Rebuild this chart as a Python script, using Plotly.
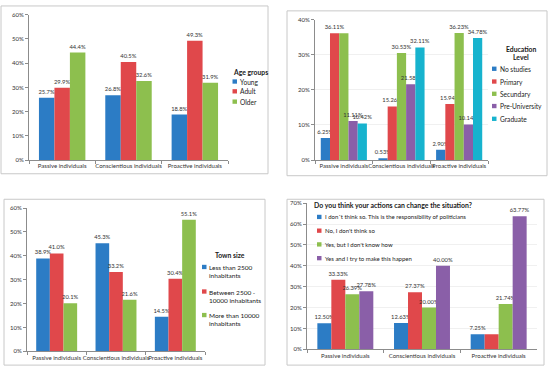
import plotly.graph_objects as go

categories = ["Passive individuals", "Conscientious individuals", "Proactive individuals"]

# Panel 1: Age groups
age_names = ["Young", "Adult", "Older"]
age_young = [25.7, 26.8, 18.8]
age_adult = [29.9, 40.5, 49.3]
age_older = [44.4, 32.6, 31.9]

# Panel 2: Education level
edu_names = ["No studies", "Primary", "Secundary", "Pre-University", "Graduate"]
edu_none = [6.25, 0.53, 2.90]
edu_primary = [36.11, 15.26, 15.94]
edu_secundary = [36.11, 30.53, 36.23]
edu_preuni = [11.11, 21.58, 10.14]
edu_graduate = [10.42, 32.11, 34.78]

# Panel 3: Town size
town_names = ["Less than 2500<br>inhabitants", "Between 2500 -<br>10000 inhabitants",
              "More than 10000<br>inhabitants"]
town_small = [38.9, 45.3, 14.5]
town_mid = [41.0, 33.2, 30.4]
town_large = [20.1, 21.6, 55.1]

# Panel 4: Can actions change the situation?
act_names = ["I don´t think so. This is the responsibility of politicians",
             "No, I don't think so", "Yes, but I don't know how",
             "Yes and I try to make this happen"]
act_politicians = [12.50, 12.63, 7.25]
act_no = [33.33, 27.37, 7.25]
act_yes_dont_know = [26.39, 20.00, 21.74]
act_yes_try = [27.78, 40.00, 63.77]

C_BLUE = "#2C7CC5"
C_RED = "#E0484B"
C_GREEN = "#8DBF4E"
C_PURPLE = "#8A5FA8"
C_CYAN = "#17B3CE"

W, H = 550, 373
FONT = "Lato, Liberation Sans, Arial, sans-serif"
TXT = "#333333"
FS_LBL = 5.8
FS_TICK = 6.0


def px(x):
    return x / W


def py(y):
    return 1 - y / H


fig = go.Figure()


def add_panel(idx, series, names, colors, fmt, hide=None):
    hide = hide or set()
    xa = "x" if idx == 1 else f"x{idx}"
    ya = "y" if idx == 1 else f"y{idx}"
    for si, (vals, name, col) in enumerate(zip(series, names, colors)):
        texts = [("" if (si, ci) in hide else fmt.format(v) + "%") for ci, v in enumerate(vals)]
        fig.add_trace(go.Bar(
            x=categories, y=vals, name=name, marker=dict(color=col, line=dict(width=0)),
            text=texts, textposition="outside", cliponaxis=False, constraintext="none",
            textfont=dict(size=FS_LBL, color=TXT, family=FONT),
            xaxis=xa, yaxis=ya, showlegend=False))


add_panel(1, [age_young, age_adult, age_older], age_names, [C_BLUE, C_RED, C_GREEN], "{:.1f}")
add_panel(2, [edu_none, edu_primary, edu_secundary, edu_preuni, edu_graduate], edu_names,
          [C_BLUE, C_RED, C_GREEN, C_PURPLE, C_CYAN], "{:.2f}", hide={(2, 0)})
add_panel(3, [town_small, town_mid, town_large], town_names, [C_BLUE, C_RED, C_GREEN], "{:.1f}")
add_panel(4, [act_politicians, act_no, act_yes_dont_know, act_yes_try], act_names,
          [C_BLUE, C_RED, C_GREEN, C_PURPLE], "{:.2f}", hide={(1, 2)})

# plot areas (pixels): x0, x1, ytop, ybottom, ymax, grid
areas = {
    1: (29, 228, 11, 159, 60, False),
    2: (315, 488, 16, 159, 40, True),
    3: (27, 205, 208, 354, 60, False),
    4: (307, 537, 203, 352, 70, True),
}

layout = dict(
    width=W, height=H, margin=dict(l=0, r=0, t=0, b=0),
    paper_bgcolor="white", plot_bgcolor="white",
    font=dict(family=FONT, size=FS_TICK, color=TXT),
    barmode="group", showlegend=False,
)

for i, (x0, x1, yt, yb, ymax, grid) in areas.items():
    xk = "xaxis" if i == 1 else f"xaxis{i}"
    yk = "yaxis" if i == 1 else f"yaxis{i}"
    ya = "y" if i == 1 else f"y{i}"
    xa = "x" if i == 1 else f"x{i}"
    layout[xk] = dict(
        domain=[px(x0), px(x1)], anchor=ya, showline=True, linecolor="#8C8C8C", linewidth=1,
        ticks="outside", ticklen=3, tickcolor="#8C8C8C", tickson="boundaries", tickangle=0,
        tickfont=dict(size=FS_TICK, color=TXT, family=FONT), showgrid=False, fixedrange=True)
    layout[yk] = dict(
        domain=[py(yb), py(yt)], anchor=xa, range=[0, ymax], dtick=10, ticksuffix="%",
        showline=True, linecolor="#8C8C8C", linewidth=1, ticks="outside", ticklen=3,
        tickcolor="#8C8C8C", tickfont=dict(size=FS_TICK, color=TXT, family=FONT),
        showgrid=grid, gridcolor="#F0F0F0", zeroline=False, fixedrange=True)

fig.update_layout(**layout)

group_frac = {1: 0.70, 2: 0.80, 3: 0.69, 4: 0.73}
counts = {1: 3, 2: 5, 3: 3, 4: 4}
start = 0
for idx in [1, 2, 3, 4]:
    n = counts[idx]
    w = group_frac[idx] / n
    for k in range(n):
        tr = fig.data[start + k]
        tr.width = w
        tr.offset = -group_frac[idx] / 2 + k * w
    start += n

shapes = []
annotations = []

# panel borders
for (bx0, by0, bx1, by1) in [(1, 2, 268, 173), (287, 7, 547, 175), (4, 199, 265, 368), (287, 199, 544, 368)]:
    shapes.append(dict(type="rect", xref="paper", yref="paper", x0=px(bx0), x1=px(bx1),
                       y0=py(by1), y1=py(by0), line=dict(color="#C8C8C8", width=1)))


def legend(title_lines, title_x, title_y, title_anchor, sq_x, txt_x, items, title_size=6.8, item_size=6.6):
    for j, (t, ty) in enumerate(zip(title_lines, title_y)):
        annotations.append(dict(text=f"<b>{t}</b>", x=px(title_x), y=py(ty), xref="paper", yref="paper",
                                xanchor=title_anchor, yanchor="middle", showarrow=False,
                                font=dict(size=title_size, color="#1A1A1A", family=FONT)))
    for (label, col, y) in items:
        shapes.append(dict(type="rect", xref="paper", yref="paper", x0=px(sq_x), x1=px(sq_x + 4.5),
                           y0=py(y + 2.2), y1=py(y - 2.2), fillcolor=col, line=dict(width=0)))
        multi = "<br>" in label
        annotations.append(dict(text=label, x=px(txt_x), y=py(y), xref="paper", yref="paper",
                                xanchor="left", yanchor="top" if multi else "middle",
                                yshift=(5.0 if multi else 0), align="left",
                                showarrow=False, font=dict(size=item_size, color="#222222", family=FONT)))


legend(["Age groups"], 231, [69], "left", 232.5, 238,
       list(zip(age_names, [C_BLUE, C_RED, C_GREEN], [79, 89, 99.5])))
legend(["Education", "Level"], 521, [46, 54.5], "center", 492, 498,
       list(zip(edu_names, [C_BLUE, C_RED, C_GREEN, C_PURPLE, C_CYAN], [66, 79, 91.5, 104, 117])))
legend(["Town size"], 230, [256], "center", 202, 207,
       list(zip(town_names, [C_BLUE, C_RED, C_GREEN], [268, 293, 317])), item_size=6.5)
legend(["Do you think your actions can change the situation?"], 312, [205], "left", 317, 323,
       list(zip(act_names, [C_BLUE, C_RED, C_GREEN, C_PURPLE], [217, 231, 245, 259])),
       title_size=6.9, item_size=6.0)

fig.update_layout(shapes=shapes, annotations=annotations)
fig.write_html("out.html", config={"displayModeBar": False},
               post_script="document.body.style.margin='0px';")
